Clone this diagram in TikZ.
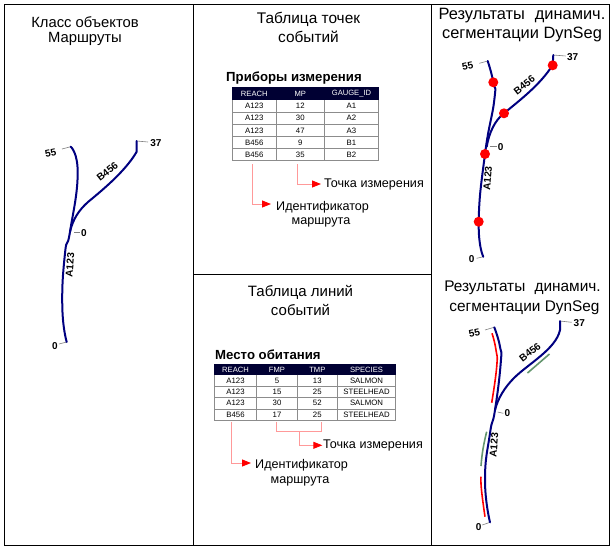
\documentclass[tikz,border=0pt]{standalone}
\usepackage{fontspec}
\setmainfont{Liberation Sans}
\usetikzlibrary{arrows.meta}
\definecolor{routeblue}{RGB}{0,0,128}
\definecolor{headnavy}{RGB}{0,0,51}
\definecolor{habgreen}{RGB}{100,150,110}
\newcommand{\fsize}[1]{\fontsize{#1}{#1}\selectfont}
\newcommand{\wide}{\hspace{0.6em}}

\begin{document}
\begin{tikzpicture}[x=1pt,y=-1pt,
        framenode/.style={draw=black, line width=1pt},
        titlenode/.style={font=\fsize{15.4}, inner sep=0pt},
        tabnamenode/.style={font=\fsize{13.2}\bfseries, anchor=west, inner sep=0pt},
        callnode/.style={font=\fsize{12.6}, inner sep=0pt},
        headnode/.style={font=\fsize{7.6}, text=white, inner sep=0pt},
        cellnode/.style={font=\fsize{7.8}, inner sep=0pt},
        marknode/.style={font=\fsize{10}\bfseries, inner sep=0pt},
        dotnode/.style={circle, fill=red, draw=none, minimum size=10pt, inner sep=0pt},
        route/.style={routeblue, line width=2pt, line cap=round},
        tick/.style={gray, line width=0.6pt},
        grid/.style={gray!90, line width=0.6pt},
        call/.style={red!40, line width=0.9pt},
        callarrow/.style={red!40, line width=0.9pt, -{Triangle[red,length=9pt,width=7pt]}},
        redseg/.style={red, line width=1.6pt},
        greenseg/.style={habgreen, line width=1.6pt}]
    \useasboundingbox (0,0) rectangle (614,550);
    \fill[white] (0,0) rectangle (614,550);

    % frame
    \draw[framenode] (4,4.5) rectangle (609,545);
    \draw[framenode] (193.5,4.5) -- (193.5,545);
    \draw[framenode] (431.5,4.5) -- (431.5,545);
    \draw[framenode] (193.5,274) -- (431.5,274);

    % titles
    \node[titlenode, font=\fsize{14.8}] (title1a) at (85,22) {Класс объектов};
    \node[titlenode, font=\fsize{14.8}] (title1b) at (85,39) {Маршруты};
    \node[titlenode] (title2a) at (308.5,19) {Таблица точек};
    \node[titlenode] (title2b) at (308.5,37) {событий};
    \node[titlenode, font=\fsize{16.4}] (title3a) at (522,16) {Результаты\wide динамич.};
    \node[titlenode, font=\fsize{16.4}] (title3b) at (522,34) {сегментации DynSeg};
    \node[titlenode, font=\fsize{15}] (title4a) at (300.5,292) {Таблица линий};
    \node[titlenode, font=\fsize{15}] (title4b) at (300.5,310) {событий};
    \node[titlenode] (title5a) at (522.5,288) {Результаты\wide динамич.};
    \node[titlenode] (title5b) at (524.5,308) {сегментации DynSeg};

    % point table
    \node[tabnamenode] (gaugename) at (226,78) {Приборы измерения};
    \fill[headnavy] (232.3,87.3) rectangle (378.7,100);
    \foreach \i in {1,...,5}
        \draw[grid] (232.3,100+\i*12.13) -- (378.7,100+\i*12.13);
    \foreach \x in {232.3,276.3,324.3,378.7}
        \draw[grid] (\x,100) -- (\x,160.7);
    \node[headnode] (gh1) at (254.3,93.6) {REACH};
    \node[headnode] (gh2) at (300.3,93.6) {MP};
    \node[headnode] (gh3) at (351.5,93.6) {GAUGE\_ID};
    \foreach \a/\b/\c [count=\i] in {A123/12/A1,A123/30/A2,A123/47/A3,B456/9/B1,B456/35/B2} {
        \node[cellnode] (ga\i) at (254.3,94+\i*12.13) {\a};
        \node[cellnode] (gb\i) at (300.3,94+\i*12.13) {\b};
        \node[cellnode] (gc\i) at (351.5,94+\i*12.13) {\c};
    }
    \node[callnode, anchor=west] (gpoint) at (324,184) {Точка измерения};
    \node[callnode, anchor=west] (groute) at (276,207) {Идентификатор};
    \node[callnode] (groute2) at (321,222) {маршрута};
    \coordinate (gfrom1) at (252.3,164);
    \coordinate (gfrom2) at (297.3,164);
    \draw[callarrow] (gfrom1) |- (271,204);
    \draw[callarrow] (gfrom2) |- (321,184);

    % line table
    \node[tabnamenode] (habname) at (215,355) {Место обитания};
    \fill[headnavy] (214.3,364) rectangle (395.7,374.7);
    \foreach \i in {1,...,4}
        \draw[grid] (214.3,374.7+\i*11.4) -- (395.7,374.7+\i*11.4);
    \foreach \x in {214.3,256.7,297.3,337.3,395.7}
        \draw[grid] (\x,374.7) -- (\x,420.3);
    \node[headnode] (hh1) at (235.5,369.4) {REACH};
    \node[headnode] (hh2) at (277,369.4) {FMP};
    \node[headnode] (hh3) at (317.3,369.4) {TMP};
    \node[headnode] (hh4) at (366.5,369.4) {SPECIES};
    \foreach \a/\b/\c/\d [count=\i] in {A123/5/13/SALMON,A123/15/25/STEELHEAD,A123/30/52/SALMON,B456/17/25/STEELHEAD} {
        \node[cellnode] (ha\i) at (235.5,369+\i*11.4) {\a};
        \node[cellnode] (hb\i) at (277,369+\i*11.4) {\b};
        \node[cellnode] (hc\i) at (317.3,369+\i*11.4) {\c};
        \node[cellnode] (hd\i) at (366.5,369+\i*11.4) {\d};
    }
    \node[callnode, anchor=west] (hpoint) at (323,445) {Точка измерения};
    \node[callnode, anchor=west] (hroute) at (255,465) {Идентификатор};
    \node[callnode] (hroute2) at (300,481) {маршрута};
    \coordinate (hfrom1) at (231.7,421.7);
    \coordinate (hfrom2) at (276.3,421.7);
    \coordinate (hfrom3) at (321.7,421.7);
    \coordinate (hjoin) at (299.3,431.3);
    \draw[callarrow] (hfrom1) |- (251,463);
    \draw[call] (hfrom2) |- (hjoin) -| (hfrom3);
    \draw[callarrow] (hjoin) |- (322.3,445.3);

    % left routes
    \draw[tick] (66.7,342) -- (59,344);
    \draw[tick] (70.7,146.7) -- (62,149);
    \draw[tick] (136.7,141) -- (148,142);
    \draw[tick] (74,232.7) -- (80,232.7);
    \draw[route] plot[smooth, tension=0.9] coordinates {(66.7,342) (62.3,306.7) (65,253.3) (70,231.7) (77.7,173.3) (70.7,146.7)};
    \draw[route] (70,231.7) .. controls (73,219) and (79,210) .. (88,202) .. controls (100,192) and (125,172) .. (136.7,151.7) -- (136.7,141);
    \node[marknode] (l0) at (55,346) {0};
    \node[marknode, rotate=12] (l55) at (50.7,152.7) {55};
    \node[marknode] (l37) at (156,142.7) {37};
    \node[marknode] (lm0) at (84,232.7) {0};
    \node[marknode, rotate=85] (lA) at (70,265) {A123};
    \node[marknode, rotate=38] (lB) at (107.3,171.7) {B456};

    % point events
    \draw[tick] (483.3,256.7) -- (476.7,258.3);
    \draw[tick] (487.7,61) -- (479.3,63.3);
    \draw[tick] (553.3,55) -- (565.7,56);
    \draw[tick] (490,146.7) -- (496.7,146.7);
    \draw[route] plot[smooth, tension=0.9] coordinates {(483.3,256.7) (478.7,221.7) (485,154) (494.3,100) (493.3,82.3) (487.7,61)};
    \draw[route] (486.7,146.7) .. controls (489,133) and (495,120) .. (504,113.3) .. controls (520,100) and (540,85) .. (552.7,65) -- (553.3,55);
    \node[dotnode] (p1) at (478.7,221.7) {};
    \node[dotnode] (p2) at (485,154) {};
    \node[dotnode] (p3) at (493.3,82.3) {};
    \node[dotnode] (p4) at (504,113.3) {};
    \node[dotnode] (p5) at (552.7,65.3) {};
    \node[marknode] (m0) at (471.7,259.3) {0};
    \node[marknode, rotate=12] (m55) at (467.7,66) {55};
    \node[marknode] (m37) at (572.7,56.7) {37};
    \node[marknode] (mm0) at (500.7,146.7) {0};
    \node[marknode, rotate=85] (mA) at (487.7,178.3) {A123};
    \node[marknode, rotate=38] (mB) at (524.3,85) {B456};

    % line events
    \draw[tick] (490,522.3) -- (482.3,525);
    \draw[tick] (494,327.3) -- (485,330);
    \draw[tick] (560,321) -- (571.7,322.3);
    \draw[tick] (497.7,412) -- (503.3,413.3);
    \draw[route] plot[smooth, tension=0.9] coordinates {(490,522.3) (485,480) (490,433.3) (495,410) (500.7,363.3) (500,346.7) (494.3,327.3)};
    \draw[route] (495,410) .. controls (498,398) and (505,387) .. (514,378) .. controls (528,364) and (556,349) .. (560,330) -- (560,321);
    \draw[redseg] plot[smooth, tension=0.9] coordinates {(485,516.7) (481.5,490) (481,476.7)};
    \draw[greenseg] plot[smooth, tension=0.9] coordinates {(481,466) (483,449) (486.7,431.7)};
    \draw[redseg] plot[smooth, tension=0.9] coordinates {(491.7,402.7) (496.7,366.7) (496,350) (492,333.3)};
    \draw[greenseg] (527.5,373) -- (549.5,354);
    \node[marknode] (n0) at (478.7,526.7) {0};
    \node[marknode, rotate=12] (n55) at (474.3,332.7) {55};
    \node[marknode] (n37) at (579.3,323.3) {37};
    \node[marknode] (nm0) at (507.3,413.3) {0};
    \node[marknode, rotate=85] (nA) at (494,445) {A123};
    \node[marknode, rotate=38] (nB) at (530,352.3) {B456};
\end{tikzpicture}
\end{document}
